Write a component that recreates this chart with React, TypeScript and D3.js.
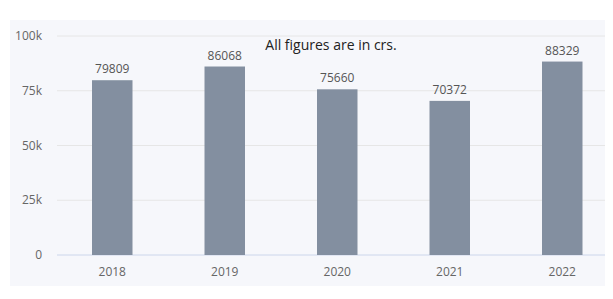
import React from "react";
import * as d3 from "d3";

const categories = ["2018", "2019", "2020", "2021", "2022"];
const values = [79809, 86068, 75660, 70372, 88329];
const yTicks = [0, 25000, 50000, 75000, 100000];
const yTickLabels = ["0", "25k", "50k", "75k", "100k"];
const subtitle = "All figures are in crs.";

export default function App() {
  const W = 613, H = 299;
  const x = d3.scaleBand<string>().domain(categories).range([56, 618.5]).paddingInner(0.64).paddingOuter(0.32);
  const y = d3.scaleLinear().domain([0, 100000]).range([255, 36]);
  const font = "'Open Sans', 'Noto Sans', sans-serif";
  return (
    <svg width={W} height={H} style={{ position: "absolute", left: 0, top: 0, background: "#ffffff" }}>
      <rect x={10} y={20} width={595} height={266} fill="#f6f7fb" />
      {yTicks.map((t, i) => (
        <g key={t}>
          <line x1={57} x2={605} y1={y(t)} y2={y(t)} stroke={t === 0 ? "#ccd6eb" : "#e6e6e6"} strokeWidth={1} />
          <text x={42} y={y(t) + 4} textAnchor="end" fontSize={12} fill="#666" fontFamily={font}>{yTickLabels[i]}</text>
        </g>
      ))}
      {categories.map((c, i) => (
        <g key={c}>
          <rect x={x(c)} y={y(values[i])} width={x.bandwidth()} height={y(0) - y(values[i])} fill="#838fa0" />
          <text x={x(c)! + x.bandwidth() / 2} y={y(values[i]) - 7} textAnchor="middle" fontSize={12} fill="#555" fontFamily={font}>{values[i]}</text>
          <text x={x(c)! + x.bandwidth() / 2} y={276} textAnchor="middle" fontSize={12} fill="#666" fontFamily={font}>{c}</text>
        </g>
      ))}
      <text x={331} y={50} textAnchor="middle" fontSize={14} fill="#222" fontFamily={font}>{subtitle}</text>
    </svg>
  );
}
